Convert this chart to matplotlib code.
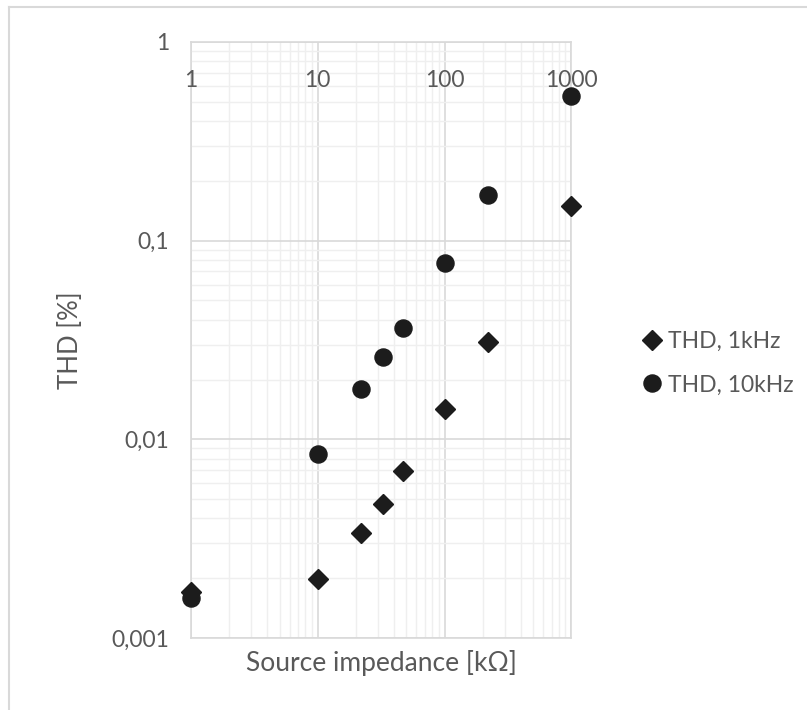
import matplotlib.pyplot as plt
from matplotlib.lines import Line2D

plt.rcParams['font.family'] = ['Lato', 'DejaVu Sans']

# source impedance in kOhm
impedance = [1, 10, 22, 33, 47, 100, 220, 1000]
# THD in %
thd_1k = [0.00170, 0.00197, 0.00339, 0.00472, 0.00692, 0.01416, 0.0310, 0.149]
thd_10k = [0.00159, 0.00843, 0.01785, 0.0259, 0.0362, 0.0774, 0.1696, 0.534]

x_ticks = [1, 10, 100, 1000]
x_ticklabels = ['1', '10', '100', '1000']
y_ticks = [0.001, 0.01, 0.1, 1]
y_ticklabels = ['0,001', '0,01', '0,1', '1']

text_col = '#595959'
mark_col = '#1c1c1c'

fig = plt.figure(figsize=(8.07, 7.10), dpi=100)
ax = fig.add_axes([191/807, 72/710, 380.3/807, 596/710])

ax.plot(impedance, thd_1k, linestyle='none', marker='D', markersize=10.2,
        color=mark_col, label='THD, 1kHz', clip_on=False, zorder=3)
ax.plot(impedance, thd_10k, linestyle='none', marker='o', markersize=12.3,
        color=mark_col, label='THD, 10kHz', clip_on=False, zorder=3)

ax.set_xscale('log')
ax.set_yscale('log')
ax.set_xlim(1, 1000)
ax.set_ylim(0.001, 1)

ax.set_xticks(x_ticks)
ax.set_xticklabels([])
ax.set_yticks(y_ticks)
ax.set_yticklabels(y_ticklabels)

# x labels sit inside the plot, near the top (drawn as text so grid stays behind)
for xv, lab in zip(x_ticks, x_ticklabels):
    ax.text(xv, 0.9346, lab, transform=ax.get_xaxis_transform(),
            ha='center', va='center', fontsize=16.5, color=text_col, zorder=4)

ax.tick_params(axis='x', which='both', bottom=False, top=False,
               labelbottom=False)
ax.tick_params(axis='y', which='both', left=False, right=False,
               pad=12, labelsize=16.5, labelcolor=text_col)

ax.grid(True, which='major', color='#d9d9d9', linewidth=1.2)
ax.grid(True, which='minor', color='#efefef', linewidth=1.0)
ax.set_axisbelow(True)
for s in ax.spines.values():
    s.set_color('#d9d9d9')
    s.set_linewidth(1.2)

ax.set_xlabel('Source impedance [kΩ]', fontsize=19, color=text_col, va='center')
ax.xaxis.set_label_coords(0.5, -0.042)
ax.set_ylabel('THD [%]', fontsize=18.5, color=text_col, va='center')
ax.yaxis.set_label_coords(-0.318, 0.5)

ax.legend(loc='center left', bbox_to_anchor=(629/807, 1 - 363/710),
          bbox_transform=fig.transFigure, frameon=False, fontsize=16.5,
          labelcolor=text_col, handletextpad=0.1, labelspacing=1.0,
          handlelength=1.2, borderaxespad=0)

# chart border (top and left only visible)
fig.add_artist(Line2D([9/807, 1], [1 - 7/710, 1 - 7/710], color='#d9d9d9', lw=1.5))
fig.add_artist(Line2D([9/807, 9/807], [0, 1 - 7/710], color='#d9d9d9', lw=1.5))

fig.savefig('out.png', dpi=100)
